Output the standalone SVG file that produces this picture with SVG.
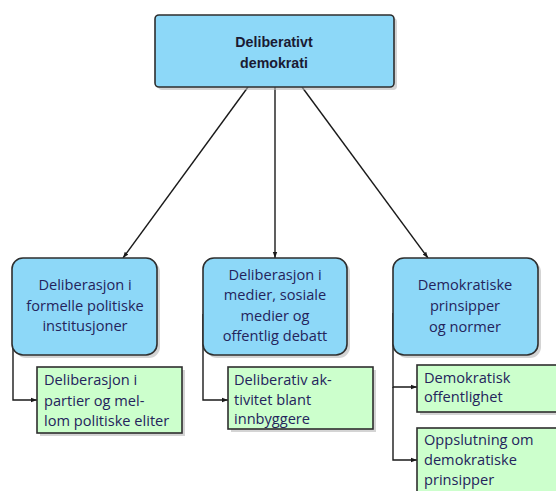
<svg xmlns="http://www.w3.org/2000/svg" width="556" height="491" viewBox="0 0 556 491">
  <defs>
    <style>
      .main { fill: #8dd8f8; stroke: #2e2e2e; stroke-width: 1.6; }
      .sub { fill: #ccffcc; stroke: #2e2e2e; stroke-width: 1.6; }
      .shadow { fill: #b8b8b8; opacity: 0.6; }
      .label { font-family: "Open Sans", "Liberation Sans", sans-serif; font-size: 14.6px; fill: #24245c; }
      .title { font-family: "Liberation Sans", Arial, sans-serif; font-size: 14.2px; font-weight: bold; fill: #1a1a33; }
      .link { fill: none; stroke: #1a1a1a; stroke-width: 1.4; }
    </style>
    <marker id="arrow" viewBox="0 0 6 6" refX="6" refY="3" markerWidth="6" markerHeight="6" orient="auto" markerUnits="userSpaceOnUse">
      <path d="M0,0.8 L6,3 L0,5.2 Z" fill="#1a1a1a"/>
    </marker>
  </defs>

  <rect width="556" height="491" fill="#ffffff"/>

  <!-- connectors -->
  <g id="connectors">
    <line class="link" x1="248" y1="87" x2="123" y2="258" marker-end="url(#arrow)"/>
    <line class="link" x1="275" y1="87" x2="275" y2="258" marker-end="url(#arrow)"/>
    <line class="link" x1="302" y1="87" x2="428" y2="258" marker-end="url(#arrow)"/>
    <polyline class="link" points="13,314 13,400 37,400" marker-end="url(#arrow)"/>
    <polyline class="link" points="203,314 203,400 228,400" marker-end="url(#arrow)"/>
    <polyline class="link" points="393,313 393,387 417,387" marker-end="url(#arrow)"/>
    <polyline class="link" points="393,387 393,460 417,460" marker-end="url(#arrow)"/>
  </g>

  <!-- root node -->
  <g id="root">
    <rect class="shadow" x="158" y="18" width="239" height="72" rx="4"/>
    <rect class="main" x="155" y="15" width="239" height="72" rx="4"/>
    <text class="title" text-anchor="middle" x="274" y="47">Deliberativt</text>
    <text class="title" text-anchor="middle" x="274" y="68">demokrati</text>
  </g>

  <!-- first level -->
  <g id="formal">
    <rect class="shadow" x="15" y="261" width="145" height="97" rx="11"/>
    <rect class="main" x="12" y="258" width="145" height="97" rx="11"/>
    <text class="label" text-anchor="middle" x="85" y="290">Deliberasjon i</text>
    <text class="label" text-anchor="middle" x="85" y="311">formelle politiske</text>
    <text class="label" text-anchor="middle" x="85" y="331">institusjoner</text>
  </g>

  <g id="media">
    <rect class="shadow" x="206" y="261" width="144" height="97" rx="11"/>
    <rect class="main" x="203" y="258" width="144" height="97" rx="11"/>
    <text class="label" text-anchor="middle" x="275" y="280">Deliberasjon i</text>
    <text class="label" text-anchor="middle" x="275" y="300">medier, sosiale</text>
    <text class="label" text-anchor="middle" x="275" y="321">medier og</text>
    <text class="label" text-anchor="middle" x="275" y="341">offentlig debatt</text>
  </g>

  <g id="principles">
    <rect class="shadow" x="396" y="261" width="145" height="97" rx="11"/>
    <rect class="main" x="393" y="258" width="145" height="97" rx="11"/>
    <text class="label" text-anchor="middle" x="465" y="290">Demokratiske</text>
    <text class="label" text-anchor="middle" x="465" y="311">prinsipper</text>
    <text class="label" text-anchor="middle" x="465" y="332">og normer</text>
  </g>

  <!-- second level -->
  <g id="parties">
    <rect class="shadow" x="40" y="370" width="145" height="66"/>
    <rect class="sub" x="37" y="367" width="145" height="66"/>
    <text class="label" x="44" y="385">Deliberasjon i</text>
    <text class="label" x="44" y="406">partier og mel-</text>
    <text class="label" x="44" y="426">lom politiske eliter</text>
  </g>

  <g id="citizens">
    <rect class="shadow" x="231" y="370" width="145" height="62"/>
    <rect class="sub" x="228" y="367" width="145" height="62"/>
    <text class="label" x="234" y="385">Deliberativ ak-</text>
    <text class="label" x="234" y="405">tivitet blant</text>
    <text class="label" x="234" y="424">innbyggere</text>
  </g>

  <g id="public">
    <rect class="shadow" x="420" y="368" width="145" height="47"/>
    <rect class="sub" x="417" y="365" width="145" height="47"/>
    <text class="label" x="424" y="383">Demokratisk</text>
    <text class="label" x="424" y="402">offentlighet</text>
  </g>

  <g id="support">
    <rect class="shadow" x="420" y="431" width="145" height="70"/>
    <rect class="sub" x="417" y="428" width="145" height="70"/>
    <text class="label" x="424" y="445">Oppslutning om</text>
    <text class="label" x="424" y="465">demokratiske</text>
    <text class="label" x="424" y="485">prinsipper</text>
  </g>
</svg>
